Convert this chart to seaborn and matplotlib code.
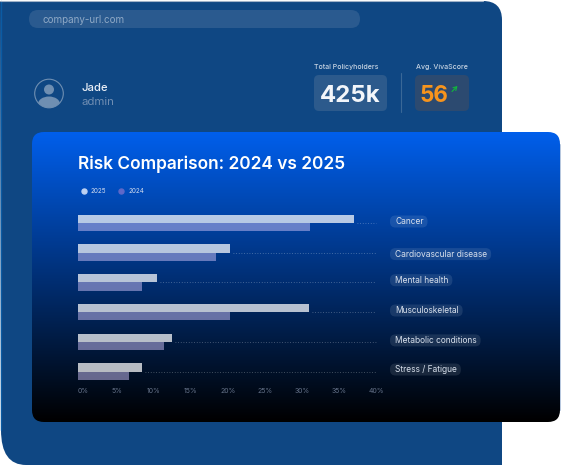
import numpy as np
import pandas as pd
import matplotlib
matplotlib.use("Agg")
import matplotlib.pyplot as plt
import seaborn as sns
from matplotlib.colors import LinearSegmentedColormap
from matplotlib.lines import Line2D
from matplotlib.patches import Circle, Ellipse, FancyBboxPatch, PathPatch
from matplotlib.path import Path
from matplotlib.transforms import ScaledTranslation

categories = ["Cancer", "Cardiovascular disease", "Mental health",
              "Musculoskeletal", "Metabolic conditions", "Stress / Fatigue"]
values_2025 = [37.3, 20.6, 10.7, 31.2, 12.7, 8.7]
values_2024 = [31.3, 18.6, 8.7, 20.6, 11.6, 6.9]
x_ticks = [0, 5, 10, 15, 20, 25, 30, 35, 40]
x_tick_labels = [f"{t}%" for t in x_ticks]

W, H = 561, 465
FONT = "Inter"
sns.set_theme(style="white")
plt.rcParams["font.family"] = [FONT, "DejaVu Sans"]

fig = plt.figure(figsize=(W / 100, H / 100), dpi=100, facecolor="white")
px = 0.72  # points per pixel

# ---- page chrome in pixel coordinates
bg = fig.add_axes([0, 0, 1, 1], zorder=0)
bg.set_xlim(0, W)
bg.set_ylim(H, 0)
bg.axis("off")


def rbox(x0, y0, x1, y1, r, **kw):
    p = FancyBboxPatch((x0, y0), x1 - x0, y1 - y0,
                       boxstyle=f"round,pad=0,rounding_size={r}", **kw)
    bg.add_patch(p)
    return p


panel = Path(
    [(0, 1), (483, 1), (502, 1), (502, 20), (502, 470), (26, 470), (26, 465),
     (1, 465), (1, 430), (0, 1)],
    [Path.MOVETO, Path.LINETO, Path.CURVE3, Path.CURVE3, Path.LINETO,
     Path.LINETO, Path.LINETO, Path.CURVE3, Path.CURVE3, Path.CLOSEPOLY])
bg.add_patch(PathPatch(panel, facecolor="#0f4783", edgecolor="none"))
bg.plot([0.5, 0.5], [1, 430], color="#0b5ba3", lw=1.0)
bg.plot([0, 483], [0.6, 0.6], color="#9fb2c8", lw=0.8)

rbox(29, 10, 360, 28, 9, facecolor="#2a5a8f", edgecolor="none")
bg.text(43, 19, "company-url.com", color="#8fa9c6", fontsize=9.8 * px, va="center_baseline")

# avatar
bg.add_patch(Circle((49, 93.5), 14.3, facecolor="none", edgecolor="#6f8fb2", lw=0.8))
bg.add_patch(Circle((49, 89.5), 5, facecolor="#6f8fb2", edgecolor="none"))
clip_c = Circle((49, 93.5), 14.3, transform=bg.transData)
shoulders = Ellipse((49, 104), 22, 15, facecolor="#6f8fb2", edgecolor="none")
bg.add_patch(shoulders)
shoulders.set_clip_path(clip_c)
bg.text(82, 87.3, "Jade", color="#e8eef6", fontsize=11.3 * px, fontweight="medium", va="center_baseline")
bg.text(82, 100.5, "admin", color="#6f8db2", fontsize=11.5 * px, va="center_baseline")

# stats
bg.text(314, 66, "Total Policyholders", color="#c6d3e2", fontsize=7 * px, fontweight="medium", va="center_baseline")
rbox(314, 75, 387, 111, 5, facecolor="#2c5a8c", edgecolor="none")
bg.text(350.5, 94, "425k", color="#f3f6fa", fontsize=24 * px, fontweight="bold", ha="center", va="center_baseline")
bg.plot([401.5, 401.5], [73, 112], color="#3a6897", lw=0.8)
bg.text(416, 66, "Avg. VivaScore", color="#c6d3e2", fontsize=7 * px, fontweight="medium", va="center_baseline")
rbox(415, 75, 469, 111, 5, facecolor="#2c4a70", edgecolor="none")
bg.text(420, 94, "56", color="#f7941d", fontsize=22.5 * px, fontweight="bold", va="center_baseline")
bg.annotate("", xy=(457.5, 86), xytext=(452, 91.5),
            arrowprops=dict(arrowstyle="->,head_width=0.12,head_length=0.2", color="#10b83c", lw=0.8, shrinkA=0, shrinkB=0))

# gradient card
card = rbox(32, 132, 560, 422, 12, facecolor="none", edgecolor="none")
cmap = LinearSegmentedColormap.from_list("card", ["#005fec", "#000000"])
grad = bg.imshow(np.linspace(0, 1, 256)[:, None], cmap=cmap, aspect="auto",
                 extent=(32, 560, 422, 132), zorder=1.5)
grad.set_clip_path(card)
card.set_zorder(1.6)
bg.plot([560, 560], [144, 410], color="#a9bdd8", lw=0.6, zorder=1.7)
bg.set_xlim(0, W)
bg.set_ylim(H, 0)
bg.text(78, 162, "Risk Comparison: 2024 vs 2025", color="white", fontsize=17.3 * px,
        fontweight="semibold", va="center_baseline", zorder=3)

# ---- chart
CHART_L, CHART_R = 78, 374
PITCH = 29.7
CHART_T, CHART_B = 223 - PITCH / 2, 371.5 + PITCH / 2
ax = fig.add_axes([CHART_L / W, 1 - CHART_B / H, (CHART_R - CHART_L) / W, (CHART_B - CHART_T) / H], zorder=2)
ax.patch.set_alpha(0)

df = pd.DataFrame({
    "category": categories * 2,
    "value": values_2025 + values_2024,
    "year": ["2025"] * len(categories) + ["2024"] * len(categories),
})
colors = {"2025": "#ffffff", "2024": "#c4baf0"}
alphas = {"2025": 0.72, "2024": 0.52}
sns.barplot(data=df, y="category", x="value", hue="year", hue_order=["2025", "2024"],
            palette=colors, order=categories, width=0.556, gap=0, saturation=1,
            errorbar=None, legend=False, ax=ax, linewidth=0)
for cont, year in zip(ax.containers, ["2025", "2024"]):
    for p in cont:
        p.set_alpha(alphas[year])

ax.set_xlim(0, 40)
ax.set_ylim(len(categories) - 0.5, -0.5)
ax.set_xlabel("")
ax.set_ylabel("")
for s in ax.spines.values():
    s.set_visible(False)

# dotted leaders from the end of the longer bar to the label gutter
for i, (a, b) in enumerate(zip(values_2025, values_2024)):
    ax.plot([max(a, b) + 0.4, 40.3], [i, i], color="#ffffff", alpha=0.35, lw=0.6,
            ls=(0, (1, 2.2)), clip_on=False)

ax.set_xticks(x_ticks, x_tick_labels)
ax.tick_params(axis="x", length=0, pad=0, labelsize=6.6 * px * 1.05, labelcolor="#66738a")
x_shift = ScaledTranslation(2 / 100, -1.7 / 100, fig.dpi_scale_trans)
first_shift = ScaledTranslation(0, -1.7 / 100, fig.dpi_scale_trans)
for i, lab in enumerate(ax.get_xticklabels()):
    if i == 0:
        lab.set_ha("left")
        lab.set_transform(lab.get_transform() + first_shift)
    else:
        lab.set_transform(lab.get_transform() + x_shift)

ax.yaxis.tick_right()
ax.tick_params(axis="y", length=0, pad=21 * px, labelsize=8.4 * px, labelcolor="#d8e0ec")
y_offsets = [-2.5, 0.4, -3.2, -2.6, -2.4, -3]
for lab, dy in zip(ax.get_yticklabels(), y_offsets):
    lab.set_transform(lab.get_transform() + ScaledTranslation(0, -dy / 100, fig.dpi_scale_trans))

# pills sized from the rendered label text
fig.canvas.draw()
renderer = fig.canvas.get_renderer()
for lab in ax.get_yticklabels():
    ext = lab.get_window_extent(renderer)
    cy = H - (ext.y0 + ext.y1) / 2
    rbox(ext.x0 - 5, cy - 6, ext.x1 + 4, cy + 6, 5.5, facecolor=(1, 1, 1, 0.1), edgecolor="none", zorder=2)

handles = [Line2D([], [], marker="o", ls="", ms=5 * px, color="#bcd0f2", label="2025"),
           Line2D([], [], marker="o", ls="", ms=5 * px, color="#5f68c8", label="2024")]
fig.legend(handles=handles, ncol=2, frameon=False, loc="center left",
           bbox_to_anchor=(76 / W, 1 - 191 / H), fontsize=6.3 * px, labelcolor="#d5def0",
           handletextpad=0.1, columnspacing=1.4, borderpad=0.2, borderaxespad=0)

fig.savefig("out.png", dpi=100, facecolor="white")
